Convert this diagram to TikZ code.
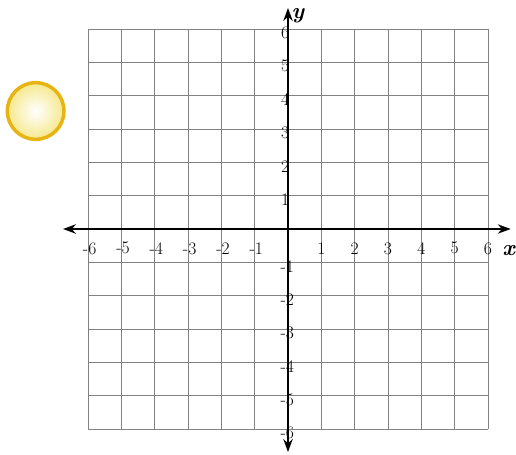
\documentclass[tikz,border=0pt]{standalone}
\usepackage{tikz}
\usetikzlibrary{arrows.meta}
\definecolor{gridcol}{RGB}{130,130,130}
\definecolor{ringcol}{RGB}{232,180,20}
\definecolor{glowcol}{RGB}{246,232,140}

\begin{document}
\begin{tikzpicture}[>=Stealth,
    gridline/.style={gridcol,line width=0.45pt},
    axisline/.style={black,line width=1.6pt,{Stealth[length=11pt,width=8pt]}-{Stealth[length=11pt,width=8pt]}},
    ticklab/.style={font=\fontsize{15}{15}\selectfont,inner sep=1pt},
    axislab/.style={font=\fontsize{19}{19}\selectfont\bfseries\itshape}]
  \useasboundingbox (-8.64,-6.75) rectangle (6.84,6.87);
  % ---------------- grid ------------------------
  \foreach \k in {-6,...,6} {
    \draw[gridline] (\k,-6) -- (\k,6);
    \draw[gridline] (-6,\k) -- (6,\k);
  }
  % ---------------- axes ------------------------
  \draw[axisline] (-6.75,0) -- (6.68,0);
  \draw[axisline] (0,-6.69) -- (0,6.63);
  \node[axislab] (xlab) at (6.62,-0.66) {x};
  \node[axislab] (ylab) at (0.3,6.4) {y};
  % tick labels
  \foreach \k in {1,...,6} {
    \node[ticklab] (xp\k) at (\k,-0.58) {\k};
    \node[ticklab] (xn\k) at (-\k+0.05,-0.58) {-\k};
    \node[ticklab,anchor=east] (yp\k) at (0.08,\k-0.12) {\k};
    \node[ticklab,anchor=east] (yn\k) at (0.22,-\k-0.12) {-\k};
  }
  % ---------------- yellow ring -----------------
  \shade[inner color=white,outer color=glowcol] (-7.57,3.54) circle (0.86);
  \draw[ringcol,line width=3pt] (-7.57,3.54) circle (0.85);
\end{tikzpicture}
\end{document}
